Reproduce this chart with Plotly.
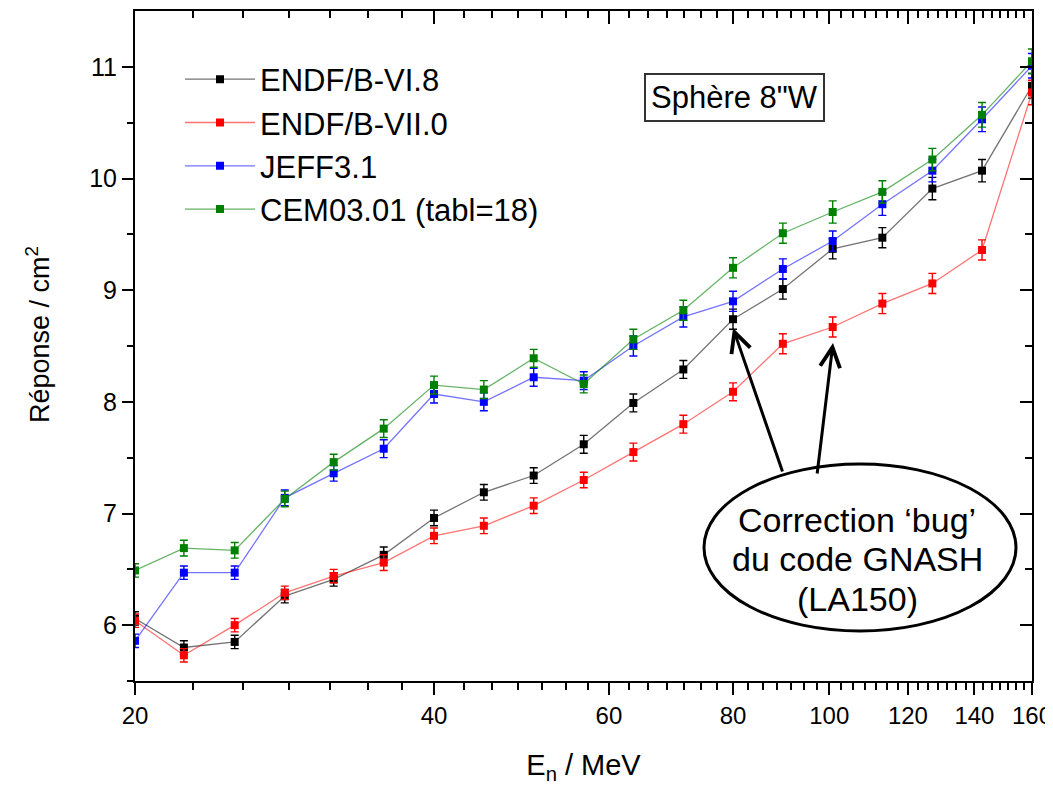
import plotly.graph_objects as go

# ---- data ----
energy_mev = [20.0, 22.4, 25.2, 28.3, 31.7, 35.6, 40.0, 44.9, 50.4, 56.6,
              63.5, 71.3, 80.0, 89.8, 100.8, 113.1, 127.0, 142.5, 160.0]

endf_b6 = [6.06, 5.80, 5.85, 6.26, 6.41, 6.63, 6.96, 7.19, 7.34, 7.62,
           7.99, 8.29, 8.74, 9.01, 9.37, 9.47, 9.91, 10.07, 10.83]
endf_b6_err = [0.06, 0.06, 0.06, 0.06, 0.06, 0.07, 0.07, 0.07, 0.07, 0.08,
               0.08, 0.08, 0.09, 0.09, 0.09, 0.09, 0.10, 0.10, 0.11]

endf_b7 = [6.04, 5.73, 6.00, 6.29, 6.44, 6.56, 6.80, 6.89, 7.07, 7.30,
           7.55, 7.80, 8.09, 8.52, 8.67, 8.88, 9.06, 9.36, 10.77]
endf_b7_err = [0.06, 0.06, 0.06, 0.06, 0.06, 0.07, 0.07, 0.07, 0.07, 0.07,
               0.08, 0.08, 0.08, 0.09, 0.09, 0.09, 0.09, 0.09, 0.11]

jeff31 = [5.86, 6.47, 6.47, 7.14, 7.36, 7.58, 8.07, 8.00, 8.22, 8.19,
          8.50, 8.76, 8.90, 9.19, 9.44, 9.77, 10.07, 10.53, 11.01]
jeff31_err = [0.06, 0.06, 0.06, 0.07, 0.07, 0.08, 0.08, 0.08, 0.08, 0.08,
              0.09, 0.09, 0.09, 0.09, 0.09, 0.10, 0.10, 0.11, 0.11]

cem03 = [6.49, 6.69, 6.67, 7.13, 7.46, 7.76, 8.15, 8.11, 8.39, 8.16,
         8.56, 8.82, 9.20, 9.51, 9.70, 9.88, 10.17, 10.57, 11.05]
cem03_err = [0.06, 0.07, 0.07, 0.07, 0.07, 0.08, 0.08, 0.08, 0.08, 0.08,
             0.09, 0.09, 0.09, 0.09, 0.10, 0.10, 0.10, 0.11, 0.11]

series_names = ["ENDF/B-VI.8", "ENDF/B-VII.0", "JEFF3.1", "CEM03.01 (tabl=18)"]

x_tick_vals = [20, 40, 60, 80, 100, 120, 140, 160]
x_tick_text = ["20", "40", "60", "80", "100", "120", "140", "160"]
y_tick_vals = [6, 7, 8, 9, 10, 11]
y_tick_text = ["6", "7", "8", "9", "10", "11"]
y_minor_vals = [5.5, 6.5, 7.5, 8.5, 9.5, 10.5]

# ---- styling ----
FONT = "Arial, Liberation Sans, sans-serif"
series = [
    (series_names[0], endf_b6, endf_b6_err, "#000000", "rgba(0,0,0,0.55)"),
    (series_names[1], endf_b7, endf_b7_err, "#ff0000", "rgba(255,0,0,0.55)"),
    (series_names[2], jeff31, jeff31_err, "#0000ff", "rgba(0,0,255,0.55)"),
    (series_names[3], cem03, cem03_err, "#008000", "rgba(0,128,0,0.6)"),
]

# minor ticks on x: 6 between each pair of major ticks (Origin style)
x_minor_vals = []
for a, b in zip(x_tick_vals[:-1], x_tick_vals[1:]):
    x_minor_vals += [a + (b - a) * k / 7 for k in range(1, 7)]

# plot-area geometry in page pixels (page body has an 8 px margin)
PX_L, PX_R, PX_T, PX_B = 135, 1032, 11, 681


def px_x(px):
    return (px - PX_L) / (PX_R - PX_L)


def px_y(px):
    return 1 - (px - PX_T) / (PX_B - PX_T)


fig = go.Figure()
for name, vals, errs, col, lcol in series:
    fig.add_trace(go.Scatter(
        x=energy_mev, y=vals, name=name, mode="lines+markers",
        line=dict(color=lcol, width=1.3),
        marker=dict(symbol="square", size=8, color=col),
        error_y=dict(type="data", array=errs, visible=True,
                     color=col, thickness=1.4, width=4),
    ))

# empty trace so that the mirrored top/right frame axes get drawn
fig.add_trace(go.Scatter(x=[], y=[], xaxis="x2", yaxis="y2",
                         showlegend=False, hoverinfo="skip"))

x_range = [1.30103, 2.20412]   # log10(20) .. log10(160)
y_range = [5.5, 11.5]

fig.update_layout(
    width=1045, height=782,
    margin=dict(l=127, r=21, t=3, b=109),
    paper_bgcolor="white", plot_bgcolor="white",
    font=dict(family=FONT, color="black"),
    showlegend=True,
    legend=dict(x=px_x(180), y=0.938, xanchor="left", yanchor="top",
                font=dict(size=31, family=FONT, color="black"),
                bgcolor="rgba(0,0,0,0)", itemwidth=70, tracegroupgap=0),
    xaxis=dict(type="log", range=x_range, showgrid=False, zeroline=False,
               showline=True, linecolor="black", linewidth=2,
               ticks="outside", ticklen=12, tickwidth=2, tickcolor="black",
               tickmode="array", tickvals=x_tick_vals, ticktext=x_tick_text,
               tickfont=dict(size=24, family=FONT),
               minor=dict(tickmode="array", tickvals=x_minor_vals,
                          ticks="outside", ticklen=7, tickwidth=2,
                          tickcolor="black", showgrid=False),
               title=dict(text="E<sub>n</sub> / MeV", font=dict(size=29),
                          standoff=27),
               automargin=False),
    yaxis=dict(range=y_range, showgrid=False, zeroline=False,
               showline=True, linecolor="black", linewidth=2,
               ticks="outside", ticklen=11, tickwidth=2, tickcolor="black",
               tickmode="array", tickvals=y_tick_vals, ticktext=y_tick_text,
               tickfont=dict(size=25, family=FONT),
               minor=dict(tickmode="array", tickvals=y_minor_vals,
                          ticks="outside", ticklen=6, tickwidth=2,
                          tickcolor="black", showgrid=False),
               automargin=False),
    xaxis2=dict(type="log", range=x_range, overlaying="x", side="top",
                anchor="y2", showgrid=False, zeroline=False,
                showline=True, linecolor="black", linewidth=2,
                ticks="inside", ticklen=13, tickwidth=2, tickcolor="black",
                tickmode="array", tickvals=x_tick_vals, showticklabels=False,
                minor=dict(tickmode="array", tickvals=x_minor_vals,
                           ticks="inside", ticklen=7, tickwidth=2,
                           tickcolor="black", showgrid=False)),
    yaxis2=dict(range=y_range, overlaying="y", side="right", anchor="x2",
                showgrid=False, zeroline=False,
                showline=True, linecolor="black", linewidth=2,
                ticks="inside", ticklen=12, tickwidth=2, tickcolor="black",
                tickmode="array", tickvals=y_tick_vals, showticklabels=False,
                minor=dict(tickmode="array", tickvals=y_minor_vals,
                           ticks="inside", ticklen=7, tickwidth=2,
                           tickcolor="black", showgrid=False)),
)

# y-axis title (placed as rotated text, like the reference)
fig.add_annotation(xref="paper", yref="paper", x=px_x(38), y=px_y(335),
                   xanchor="center", yanchor="middle", textangle=-90,
                   text="Réponse / cm<sup>2</sup>", showarrow=False,
                   font=dict(size=27, family=FONT, color="black"))

# ellipse around the comment
fig.add_shape(type="circle", xref="paper", yref="paper",
              x0=px_x(704), x1=px_x(1016), y0=px_y(631), y1=px_y(464),
              line=dict(color="black", width=3), fillcolor="white",
              layer="above")

# boxed label
fig.add_annotation(xref="paper", yref="paper", x=px_x(734), y=px_y(97),
                   xanchor="center", yanchor="middle",
                   text="Sphère 8\"W", showarrow=False,
                   font=dict(size=31, family=FONT, color="black"),
                   bordercolor="#333333", borderwidth=2, borderpad=5,
                   bgcolor="white")

# text inside the ellipse
for txt, ypx in [("Correction ‘bug’", 520), ("du code GNASH", 559),
                 ("(LA150)", 599)]:
    fig.add_annotation(xref="paper", yref="paper", x=px_x(857),
                       y=px_y(ypx), xanchor="center", yanchor="middle",
                       text=txt, showarrow=False,
                       font=dict(size=34, family=FONT, color="black"))

# arrows
for tipx, tipy, axp, ayp in [(733, 328, 50, 145), (833, 343, -16, 132)]:
    fig.add_annotation(xref="paper", yref="paper",
                       x=px_x(tipx), y=px_y(tipy),
                       text="", showarrow=True, ax=axp, ay=ayp,
                       arrowhead=5, arrowsize=1.3, arrowwidth=3,
                       arrowcolor="black", standoff=0)

fig.write_html("out.html")
